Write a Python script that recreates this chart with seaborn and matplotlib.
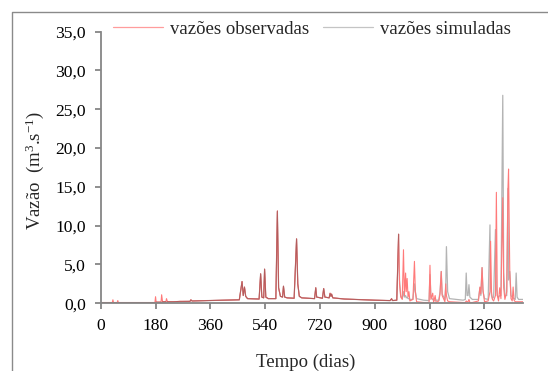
import numpy as np
import pandas as pd
import matplotlib
matplotlib.use("Agg")
import matplotlib.pyplot as plt
from matplotlib.lines import Line2D
import seaborn as sns

# ---- data ----
days = [0, 38, 40, 42, 54, 56, 58, 178, 180, 182, 198, 200, 203, 214, 216, 219,
        240, 260, 293, 296, 300, 350, 400, 455, 464, 468, 472, 476, 482,
        520, 525, 529, 535, 538, 542, 550, 575, 580, 584, 590, 597, 600, 604,
        612, 635, 643, 647, 652, 660, 702, 706, 709, 728, 732, 736, 750, 753,
        756, 758, 762, 800, 900, 950, 955, 958, 972, 978, 981, 985, 990, 994,
        997, 1001, 1003, 1006, 1009, 1012, 1015, 1025, 1030, 1033, 1037, 1060,
        1078, 1081, 1084, 1090, 1093, 1098, 1101, 1110, 1114, 1118, 1121, 1130,
        1133, 1135, 1139, 1145, 1190, 1197, 1200, 1203, 1206, 1209, 1212, 1220,
        1240, 1245, 1248, 1252, 1255, 1260, 1272, 1278, 1280, 1283, 1286, 1290,
        1296, 1299, 1302, 1306, 1310, 1314, 1320, 1323, 1327, 1333, 1337, 1339,
        1343, 1347, 1351, 1354, 1357, 1361, 1364, 1367, 1372, 1387]
obs = [0.1, 0.1, 0.45, 0.1, 0.1, 0.35, 0.1, 0.1, 0.85, 0.15, 0.15, 1.1, 0.2, 0.2, 0.6, 0.2,
       0.2, 0.25, 0.25, 0.45, 0.3, 0.35, 0.4, 0.45, 2.8, 1.0, 2.1, 0.9, 0.6,
       0.55, 3.8, 0.8, 0.7, 4.4, 0.8, 0.6, 0.6, 11.9, 2.0, 0.9, 0.8, 2.2, 0.8,
       0.7, 0.65, 8.3, 2.5, 0.9, 0.7, 0.6, 2.0, 0.8, 0.65, 1.9, 0.8, 0.7, 1.3,
       0.9, 1.2, 0.7, 0.55, 0.4, 0.35, 0.6, 0.35, 0.4, 8.9, 2.5, 0.8, 0.5, 6.9,
       1.0, 3.9, 1.5, 3.2, 0.8, 1.5, 0.3, 0.5, 5.4, 1.5, 0.2, 0.1,
       0.1, 4.9, 0.5, 1.3, 0.1, 1.0, 0.1, 0.3, 1.2, 4.1, 1.0, 0.2,
       2.5, 1.0, 0.3, 0.2, 0.1, 0.1, 0.3, 0.2, 0.2, 0.5, 0.1, 0.1,
       0.3, 2.1, 1.2, 4.6, 1.8, 0.2, 0.3, 1.5, 8.0, 1.5, 0.5, 0.3,
       1.0, 14.3, 1.0, 0.3, 2.0, 0.6, 13.6, 2.0, 0.5, 1.5, 14.8, 17.3,
       4.1, 0.6, 0.3, 2.1, 0.4, 0.2, 0.2, 0.2, 0.2, 0.2]
sim = [0.05, 0.05, 0.05, 0.05, 0.05, 0.05, 0.05, 0.08, 0.1, 0.1, 0.1, 0.12, 0.12, 0.15, 0.15, 0.15,
       0.18, 0.2, 0.25, 0.4, 0.3, 0.35, 0.4, 0.45, 2.8, 1.0, 2.0, 0.9, 0.6,
       0.55, 3.8, 0.8, 0.7, 4.4, 0.8, 0.6, 0.6, 11.8, 2.0, 0.9, 0.8, 2.2, 0.8,
       0.7, 0.65, 8.3, 2.5, 0.9, 0.7, 0.6, 2.0, 0.8, 0.65, 1.9, 0.8, 0.7, 1.2,
       0.9, 1.1, 0.7, 0.55, 0.4, 0.35, 0.5, 0.35, 0.4, 8.9, 3.0, 1.0, 0.6, 1.5,
       0.8, 1.0, 0.7, 0.8, 0.6, 0.6, 0.5, 0.5, 2.5, 1.5, 0.6, 0.4,
       0.35, 3.7, 0.8, 0.5, 0.4, 0.4, 0.4, 0.4, 1.5, 4.1, 1.2, 0.5,
       2.6, 7.3, 1.5, 0.6, 0.4, 0.5, 3.9, 1.0, 1.0, 2.4, 0.8, 0.5,
       0.5, 2.0, 1.0, 4.6, 1.5, 0.6, 0.5, 10.1, 2.0, 1.0, 0.6, 0.8,
       9.5, 2.0, 1.0, 0.8, 1.0, 1.0, 26.8, 4.0, 1.0, 1.0, 14.8, 3.0,
       4.1, 1.0, 0.8, 0.7, 0.6, 0.5, 3.9, 0.8, 0.5, 0.5]

xticks = [0, 180, 360, 540, 720, 900, 1080, 1260]
yticks = [0, 5, 10, 15, 20, 25, 30, 35]
ytick_labels = ["0,0", "5,0", "10,0", "15,0", "20,0", "25,0", "30,0", "35,0"]
label_obs = "vazões observadas"
label_sim = "vazões simuladas"

# ---- style ----
sns.set_theme(style="white")
plt.rcParams["font.family"] = ["Liberation Serif", "DejaVu Serif"]
plt.rcParams["mathtext.fontset"] = "custom"
plt.rcParams["mathtext.rm"] = "Liberation Serif"
plt.rcParams["mathtext.it"] = "Liberation Serif:italic"

df = pd.DataFrame({"dia": days, "obs": obs, "sim": sim})

fig = plt.figure(figsize=(5.48, 3.71), dpi=100)
ax = fig.add_axes([0.1838, 0.1825, 0.9547 - 0.1838, 0.9146 - 0.1825])

c_obs = "#FF7A7A"
c_sim = "#B4B4B4"
c_both = "#B25C5C"

sns.lineplot(data=df, x="dia", y="sim", ax=ax, color=c_sim, lw=0.9,
             estimator=None, sort=False, label=label_sim)
sns.lineplot(data=df, x="dia", y="obs", ax=ax, color=c_obs, lw=0.8,
             estimator=None, sort=False, label=label_obs)
# where both series coincide the original shows a darker blended line
o = np.array(obs); s = np.array(sim)
both = np.where(np.abs(o - s) <= 0.15, o, np.nan)
ax.plot(days, both, color=c_both, lw=0.7)

ax.set_xlim(0, 1387)
ax.set_ylim(0, 35)
ax.set_xticks(xticks)
ax.set_xticklabels([str(t) for t in xticks])
ax.set_yticks(yticks)
ax.set_yticklabels(ytick_labels)

spine_c = "#868686"
for side in ["top", "right"]:
    ax.spines[side].set_visible(False)
for side in ["left", "bottom"]:
    ax.spines[side].set_color(spine_c)
    ax.spines[side].set_linewidth(1.3)
ax.tick_params(axis="both", which="major", direction="out", length=4.5, width=1.3,
               color=spine_c, labelcolor="black", labelsize=12.6, pad=6)
ax.tick_params(axis="x", bottom=True)
ax.tick_params(axis="y", left=True)

ax.set_ylabel("Vazão  (m$^{3}$.s$^{-1}$)", fontsize=13.5, va="center")
ax.yaxis.set_label_coords(-0.1555, 0.49)
ax.set_xlabel("Tempo (dias)", fontsize=13.5, va="center")
ax.xaxis.set_label_coords(0.486, -0.216)

handles = [Line2D([0], [0], color="#FF9C9C", lw=0.9),
           Line2D([0], [0], color="#C4C4C4", lw=0.9)]
ax.legend(handles, [label_obs, label_sim], loc="center",
          bbox_to_anchor=(0.569, 0.921), bbox_transform=fig.transFigure,
          ncol=2, frameon=False, handlelength=2.67, handletextpad=0.37,
          columnspacing=0.75, fontsize=13.5, borderpad=0, borderaxespad=0)

# outer chart frame (cropped)
fx = 11.5 / 548
fy = 1 - 12.3 / 371
fig.add_artist(Line2D([fx, fx, 1.0], [0.0, fy, fy], transform=fig.transFigure,
                      color="#8A8A8A", lw=1.0))

fig.savefig("out.png", dpi=100)
